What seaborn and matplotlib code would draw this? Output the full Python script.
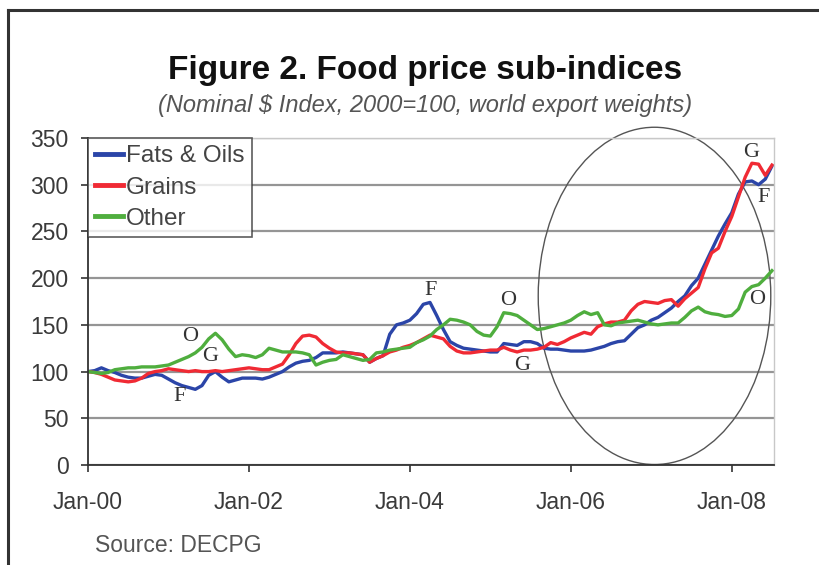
import numpy as np
import pandas as pd
import matplotlib
matplotlib.use("Agg")
import matplotlib.pyplot as plt
import seaborn as sns
from matplotlib.patches import Ellipse
from matplotlib.lines import Line2D

# ---- data (monthly, Jan-2000 .. Jul-2008) ----
fats_oils = [100, 101, 104, 101, 99, 96, 94, 93, 93, 95, 97, 96,
             92, 88, 85, 83, 81, 85, 96, 100, 94, 89, 91, 93,
             93, 93, 92, 94, 97, 100, 105, 109, 111, 112, 115, 120,
             120, 120, 121, 120, 119, 118, 110, 114, 117, 140, 150, 152,
             155, 162, 172, 174, 160, 145, 132, 128, 125, 124, 123, 122,
             121, 121, 130, 129, 128, 132, 132, 130, 125, 124, 124, 123,
             122, 122, 122, 123, 125, 127, 130, 132, 133, 140, 147, 150,
             155, 158, 163, 168, 175, 181, 192, 200, 215, 230, 245, 258,
             270, 290, 303, 304, 300, 306, 320]
grains = [100, 99, 97, 94, 91, 90, 89, 90, 93, 98, 100, 101,
          103, 102, 101, 100, 101, 100, 100, 101, 100, 101, 102, 103,
          104, 103, 102, 102, 105, 108, 118, 130, 138, 139, 137, 130,
          125, 121, 120, 120, 119, 118, 110, 114, 117, 121, 123, 126,
          128, 131, 135, 139, 137, 135, 127, 122, 120, 120, 121, 122,
          123, 123, 126, 123, 121, 123, 123, 124, 126, 131, 129, 132,
          136, 139, 142, 140, 148, 151, 153, 153, 155, 165, 172, 175,
          174, 173, 176, 177, 170, 178, 184, 190, 210, 227, 232, 250,
          266, 287, 308, 323, 322, 310, 321]
other = [100, 99, 98, 99, 102, 103, 104, 104, 105, 105, 105, 106,
         107, 110, 113, 116, 120, 126, 135, 141, 134, 124, 116, 118,
         117, 115, 118, 125, 123, 121, 121, 121, 120, 118, 107, 110,
         112, 113, 118, 116, 114, 112, 113, 120, 121, 123, 124, 125,
         126, 131, 134, 138, 145, 150, 156, 155, 153, 150, 143, 139,
         138, 148, 163, 162, 160, 155, 150, 145, 146, 148, 150, 152,
         155, 160, 164, 161, 163, 150, 149, 152, 153, 154, 155, 153,
         151, 150, 151, 152, 152, 158, 165, 169, 164, 162, 161, 159,
         160, 167, 185, 191, 193, 200, 208]
series_names = ["Fats & Oils", "Grains", "Other"]
tick_years = [2000, 2002, 2004, 2006, 2008]
tick_labels = ["Jan-00", "Jan-02", "Jan-04", "Jan-06", "Jan-08"]
y_ticks = [0, 50, 100, 150, 200, 250, 300, 350]

# annotations (letter, x-year, y-value)
ann_letters = ["O", "G", "F", "F", "O", "G", "G", "F", "O"]
ann_x = [2001.27, 2001.52, 2001.14, 2004.26, 2005.22, 2005.40, 2008.24, 2008.40, 2008.31]
ann_y = [138, 116, 73, 187, 176, 106, 335, 286, 177]

n = len(fats_oils)
t = 2000 + np.arange(n) / 12.0
df = pd.DataFrame({
    "t": np.concatenate([t, t, t]),
    "value": fats_oils + grains + other,
    "series": np.repeat(series_names, n),
})

palette = {"Fats & Oils": "#2b45a8", "Grains": "#f02a34", "Other": "#4fae3e"}

fig = plt.figure(figsize=(8.19, 5.65), dpi=100)
fig.patch.set_facecolor("white")
ax = fig.add_axes([88/819, 1-465/565, (774-88)/819, (465-138)/565])

sns.lineplot(data=df, x="t", y="value", hue="series", palette=palette,
             linewidth=2.4, ax=ax, legend=False, estimator=None)

ax.set_xlim(2000, 2000 + 102.3/12)
ax.set_ylim(0, 350)
ax.set_xticks(tick_years)
ax.set_xticklabels(tick_labels)
ax.set_yticks(y_ticks)
ax.set_xlabel("")
ax.set_ylabel("")
ax.set_facecolor("white")

ax.grid(axis="y", color="#959595", linewidth=1.6)
ax.grid(axis="x", visible=False)
ax.set_axisbelow(True)
for side in ["top", "right"]:
    ax.spines[side].set_color("#c8c8c8")
    ax.spines[side].set_linewidth(1.0)
for side in ["left", "bottom"]:
    ax.spines[side].set_color("#333333")
    ax.spines[side].set_linewidth(1.3)
ax.tick_params(axis="both", direction="out", length=5, width=1.2, color="#333333",
               labelsize=16.5, labelcolor="#3a3a3a")
ax.tick_params(axis="y", pad=9)
ax.tick_params(axis="x", pad=14)
for lab in ax.get_xticklabels() + ax.get_yticklabels():
    lab.set_family("Liberation Sans")

# legend
handles = [Line2D([0], [0], color=palette[s], linewidth=3.5) for s in series_names]
leg = ax.legend(handles, series_names, loc="upper left", bbox_to_anchor=(0.0, 1.0),
                frameon=True, fancybox=False, borderaxespad=0.0,
                prop={"family": "Liberation Sans", "size": 17.5},
                handlelength=1.15, handletextpad=0.12, labelspacing=0.38,
                borderpad=0.3)
leg.get_frame().set_edgecolor("#333333")
leg.get_frame().set_linewidth(1.2)
for txt in leg.get_texts():
    txt.set_color("#444444")

# F/G/O annotations
for letter, xv, yv in zip(ann_letters, ann_x, ann_y):
    ax.text(xv, yv, letter, family="Liberation Serif", fontsize=16,
            color="#333333", ha="center", va="center")

# ellipse highlight
ell = Ellipse((2007.04, 181), width=2.89, height=361, fill=False,
              edgecolor="#555555", linewidth=1.0, clip_on=False)
ax.add_patch(ell)

# titles and source
fig.text(425/819, 1-71/565, "Figure 2. Food price sub-indices", ha="center", va="center",
         family="Liberation Sans", fontsize=24, fontweight="bold", color="#111111")
fig.text(425/819, 1-105/565, "(Nominal $ Index, 2000=100, world export weights)",
         ha="center", va="center", family="Liberation Sans", fontsize=17,
         style="italic", color="#555555")
fig.text(95/819, 1-545/565, "Source: DECPG", ha="left", va="center",
         family="Liberation Sans", fontsize=16.5, color="#555555")

# outer frame (top and left edges visible)
fig.add_artist(Line2D([8/819, 8/819], [0, 1-10/565], transform=fig.transFigure,
                      color="#333333", linewidth=2.2))
fig.add_artist(Line2D([8/819, 1], [1-10/565, 1-10/565], transform=fig.transFigure,
                      color="#333333", linewidth=2.2))

fig.savefig("out.png", dpi=100)
